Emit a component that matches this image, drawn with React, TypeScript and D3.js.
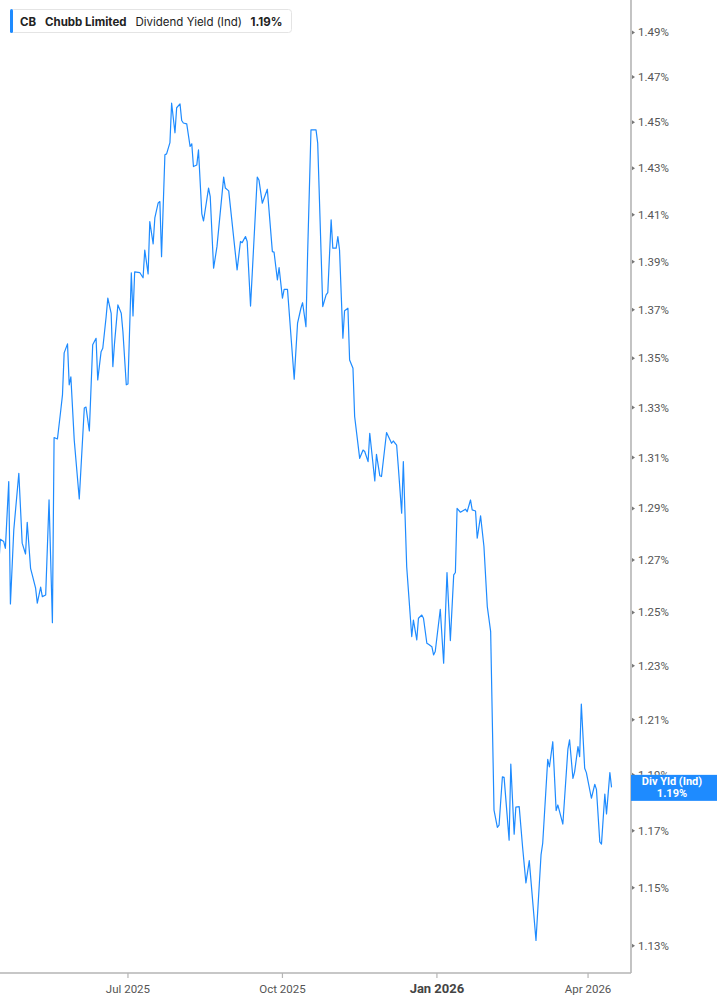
import React from "react";
import * as d3 from "d3";

// ---- data ----
const startDate = new Date(2025, 3, 15);
const dayOffsets = [
  0, 1, 3, 4, 6, 7, 9, 12, 14, 16, 17, 19, 20, 22, 23, 25, 26, 28, 30, 32, 33, 35, 37, 38, 39, 41, 42, 43, 45, 48,
  51, 52, 54, 56, 58, 59, 61, 62, 64, 65, 67, 68, 69, 71, 73, 74, 76, 77, 79, 80, 81, 84, 86, 87, 89, 90, 92, 93, 95, 96,
  97, 99, 100, 102, 103, 105, 106, 108, 109, 110, 112, 114, 115, 116, 118, 119, 121, 122, 125, 126, 128, 130, 134, 135, 137, 142, 144, 145, 147, 148,
  150, 154, 155, 157, 160, 163, 164, 166, 167, 169, 170, 172, 176, 178, 180, 181, 183, 184, 186, 189, 190, 193, 195, 196, 198, 199, 201, 202, 203, 205,
  206, 208, 209, 211, 212, 215, 217, 218, 220, 221, 224, 225, 227, 228, 231, 234, 235, 237, 238, 240, 241, 243, 246, 247, 249, 250, 252, 253, 255, 256,
  258, 259, 260, 263, 265, 267, 269, 271, 272, 273, 275, 278, 279, 281, 282, 284, 285, 287, 289, 291, 293, 295, 297, 298, 300, 301, 304, 305, 307, 308,
  310, 312, 314, 316, 320, 323, 324, 327, 328, 330, 332, 333, 336, 339, 340, 342, 343, 345, 346, 347, 349, 350, 353, 355, 356, 358, 359, 361, 362, 364,
  365,
];
const yieldValues = [
  1.2674, 1.278, 1.2771, 1.2745, 1.3005, 1.2532, 1.2816, 1.3038, 1.2765, 1.2723, 1.2846, 1.2668, 1.2643, 1.2592, 1.2535, 1.2596, 1.256, 1.2566, 1.2933, 1.2461,
  1.318, 1.3174, 1.329, 1.3351, 1.3522, 1.3559, 1.3392, 1.3424, 1.317, 1.2937,
  1.3298, 1.3302, 1.3206, 1.3555, 1.3582, 1.3412, 1.3527, 1.3541, 1.3671, 1.3748, 1.3685, 1.3466, 1.3562, 1.372, 1.3685, 1.3609, 1.3392, 1.3395, 1.3854, 1.3674,
  1.3858, 1.3855, 1.3833, 1.395, 1.3849, 1.407, 1.3976, 1.4086, 1.415, 1.4156,
  1.3922, 1.4358, 1.4362, 1.4411, 1.4584, 1.4454, 1.4564, 1.4581, 1.4508, 1.4497, 1.4493, 1.4394, 1.4406, 1.4307, 1.4314, 1.4379, 1.4103, 1.4073, 1.4214, 1.4177,
  1.3873, 1.3964, 1.4261, 1.4214, 1.4202, 1.3866, 1.3986, 1.3981, 1.4007, 1.3986,
  1.3715, 1.4261, 1.4249, 1.4149, 1.4209, 1.3943, 1.3941, 1.3824, 1.3876, 1.3748, 1.3785, 1.3785, 1.3415, 1.3644, 1.3706, 1.3729, 1.363, 1.3936, 1.4467, 1.4467,
  1.4409, 1.3713, 1.3762, 1.3771, 1.4078, 1.3958, 1.3958, 1.4007, 1.395, 1.3582,
  1.3696, 1.3706, 1.3493, 1.3459, 1.3264, 1.3097, 1.313, 1.3124, 1.3084, 1.3197, 1.3008, 1.3113, 1.3028, 1.3025, 1.32, 1.3157, 1.3166, 1.315, 1.3064, 1.2881,
  1.3084, 1.2674, 1.2409, 1.2471, 1.2396, 1.2478, 1.249, 1.2478, 1.2384, 1.238,
  1.2371, 1.234, 1.2353, 1.2512, 1.2309, 1.2652, 1.2394, 1.2643, 1.2652, 1.29, 1.2885, 1.2897, 1.2887, 1.2933, 1.2894, 1.289, 1.2784, 1.2871, 1.2752, 1.2522,
  1.2428, 1.1774, 1.1712, 1.172, 1.1893, 1.1891, 1.1667, 1.1939, 1.1688, 1.1784,
  1.1786, 1.1644, 1.1517, 1.1595, 1.1318, 1.1615, 1.1656, 1.1956, 1.1929, 1.202, 1.1772, 1.1792, 1.1724, 1.1993, 1.2027, 1.1887, 1.1911, 1.2002, 1.1966, 1.2158,
  1.1924, 1.1908, 1.1816, 1.1866, 1.1848, 1.1661, 1.1653, 1.1831, 1.176, 1.1908,
  1.1855,
];
const yTicks = [1.13, 1.15, 1.17, 1.19, 1.21, 1.23, 1.25, 1.27, 1.29, 1.31, 1.33, 1.35, 1.37, 1.39, 1.41, 1.43, 1.45, 1.47, 1.49];
const xTickDates = [new Date(2025, 6, 1), new Date(2025, 9, 1), new Date(2026, 0, 1), new Date(2026, 3, 1)];
const xTickLabels = ["Jul 2025", "Oct 2025", "Jan 2026", "Apr 2026"];
const xTickBold = [false, false, true, false];
const legendTicker = "CB";
const legendName = "Chubb Limited";
const legendMetric = "Dividend Yield (Ind)";
const lastLabel = "1.19%";
const endTagTitle = "Div Yld (Ind)";

const W = 717;
const H = 1005;
const plotRight = 631;
const plotBottom = 973;
const BLUE = "#1e8bff";
const FONT = "Roboto, 'Noto Sans', sans-serif";
const LEGEND_FONT = "Inter, Roboto, sans-serif";

export default function App() {
  const data = dayOffsets.map((d, i) => ({
    date: d3.timeDay.offset(startDate, d),
    value: yieldValues[i],
  }));

  const x = d3
    .scaleTime()
    .domain([new Date(2025, 3, 15, 19), new Date(2026, 3, 26, 14)])
    .range([0, plotRight]);
  const y = d3.scaleLog().domain([1.1207, 1.5047]).range([plotBottom, 0]);

  const line = d3
    .line<{ date: Date; value: number }>()
    .x((d) => x(d.date))
    .y((d) => y(d.value));

  const tagY = y(1.19);

  return (
    <svg
      width={W}
      height={H}
      style={{ position: "absolute", left: 0, top: 0, background: "#fff" }}
      fontFamily={FONT}
    >
      <defs>
        <clipPath id="plotclip">
          <rect x={0} y={0} width={plotRight} height={plotBottom} />
        </clipPath>
      </defs>

      {/* series */}
      <path
        d={line(data) || ""}
        fill="none"
        stroke={BLUE}
        strokeWidth={1.2}
        strokeLinejoin="round"
        clipPath="url(#plotclip)"
      />

      {/* right axis */}
      <line x1={plotRight} y1={0} x2={plotRight} y2={plotBottom} stroke="#b5b5b5" strokeWidth={1.6} />
      {yTicks.map((t) => (
        <g key={t}>
          <path d={`M${plotRight + 1},${y(t) - 2} L${plotRight + 4},${y(t)} L${plotRight + 1},${y(t) + 2} Z`} fill="#777" />
          {t === 1.19 ? (
            // partly hidden behind the end tag, as in the original
            <g clipPath="url(#tagclip)">
              <text x={plotRight + 7} y={y(t)} dy="0.35em" fontSize={11.5} fill="#555">
                {t.toFixed(2) + "%"}
              </text>
            </g>
          ) : (
            <text x={plotRight + 7} y={y(t)} dy="0.35em" fontSize={11.5} fill="#555">
              {t.toFixed(2) + "%"}
            </text>
          )}
        </g>
      ))}
      <defs>
        <clipPath id="tagclip">
          <rect x={plotRight} y={tagY - 10} width={W - plotRight} height={10} />
        </clipPath>
      </defs>

      {/* bottom axis */}
      <line x1={0} y1={plotBottom} x2={plotRight} y2={plotBottom} stroke="#b5b5b5" strokeWidth={1.6} />
      {xTickDates.map((dt, i) => (
        <g key={i}>
          <line x1={x(dt)} y1={plotBottom} x2={x(dt)} y2={plotBottom + 5} stroke="#b5b5b5" strokeWidth={1.2} />
          <text
            x={x(dt)}
            y={993}
            textAnchor="middle"
            fontSize={xTickBold[i] ? 13 : 11.5}
            fontWeight={xTickBold[i] ? 700 : 400}
            fill={xTickBold[i] ? "#444" : "#555"}
          >
            {xTickLabels[i]}
          </text>
        </g>
      ))}

      {/* end tag */}
      <rect x={plotRight} y={tagY} width={W - plotRight} height={26} fill={BLUE} />
      <text x={(plotRight + W) / 2 - 2} y={tagY + 10.5} textAnchor="middle" fontSize={11} fontWeight={700} fill="#fff">
        {endTagTitle}
      </text>
      <text x={(plotRight + W) / 2 - 2} y={tagY + 22.5} textAnchor="middle" fontSize={11} fontWeight={700} fill="#fff">
        {lastLabel}
      </text>

      {/* legend */}
      <rect x={10.5} y={9.5} width={281} height={23} rx={3} fill="#fff" stroke="#e4e4e4" />
      <rect x={10} y={9} width={3} height={24} rx={1.5} fill={BLUE} />
      <text y={25.5} fontSize={11.5} fill="#222" fontFamily={LEGEND_FONT}>
        <tspan x={20} fontWeight={700}>{legendTicker}</tspan>
        <tspan x={45} fontWeight={700}>{legendName}</tspan>
        <tspan x={135.5} fontWeight={400}>{legendMetric}</tspan>
        <tspan x={250.5} fontWeight={700}>{lastLabel}</tspan>
      </text>
    </svg>
  );
}
